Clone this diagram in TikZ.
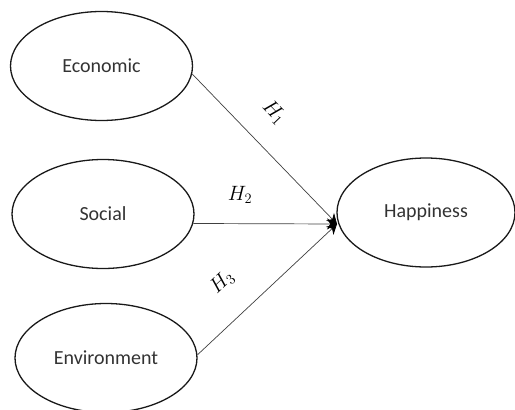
\documentclass[tikz,border=0pt]{standalone}
\usepackage{fontspec}
\setmainfont{Carlito}
\usetikzlibrary{arrows.meta,shapes.geometric}
\begin{document}
\begin{tikzpicture}[x=1pt,y=-1pt,
  factor/.style={draw=black!90,line width=1.3pt,ellipse,inner sep=0pt,
    minimum width=182pt,minimum height=109pt,
    font=\fontsize{20}{24}\selectfont,text=black!80},
  path/.style={draw=black!75,line width=0.7pt,-{Stealth[length=10pt,width=11pt,color=black]}},
  hlab/.style={font=\fontsize{20}{24}\selectfont,inner sep=1pt}]
\useasboundingbox (0,0) rectangle (515,410);
\node[factor] (eco) at (101.5,66) {Economic};
\node[factor] (soc) at (103,214) {Social};
\node[factor] (env) at (106,358) {Environment};
\node[factor,minimum width=178pt] (hap) at (426,212.5) {Happiness};
\coordinate (tip) at (337,224);
\draw[path] (eco.-5) -- (tip);
\draw[path] (soc.-6) -- (tip);
\draw[path] (env.2) -- (tip);
\node[hlab,rotate=-46] (h1) at (274,112) {$H_1$};
\node[hlab] (h2) at (240,195) {$H_2$};
\node[hlab,rotate=43] (h3) at (222,282) {$H_3$};
\end{tikzpicture}
\end{document}
